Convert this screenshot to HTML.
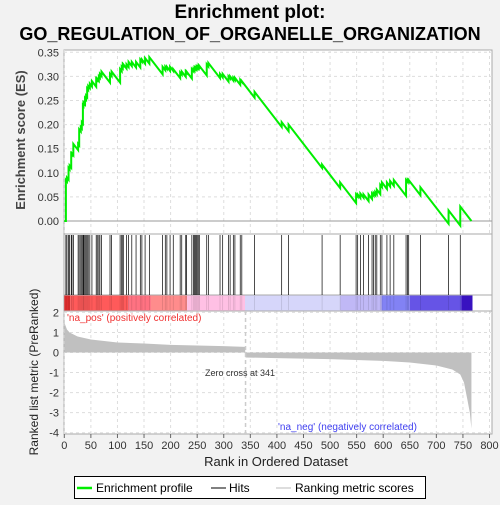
<!DOCTYPE html>
<html><head><meta charset="utf-8"><style>
body{margin:0;background:#f2f2f2;}
svg{font-family:"Liberation Sans","DejaVu Sans",sans-serif;}
</style></head><body>
<svg id="c" width="500" height="500" xmlns="http://www.w3.org/2000/svg">
<rect width="500" height="500" fill="#f2f2f2"/>
<text x="250" y="18" text-anchor="middle" font-size="19" font-weight="bold">Enrichment plot:</text>
<text x="250" y="40" text-anchor="middle" font-size="18" font-weight="bold">GO_REGULATION_OF_ORGANELLE_ORGANIZATION</text>
<rect x="64" y="50" width="428" height="384" fill="#fff" stroke="#aaa"/>
<g id="g"></g>
<text transform="translate(25,140) rotate(-90)" text-anchor="middle" font-size="13" font-weight="bold" fill="#444">Enrichment score (ES)</text>
<text transform="translate(38,372) rotate(-90)" text-anchor="middle" font-size="12" fill="#222">Ranked list metric (PreRanked)</text>
<text x="276" y="466" text-anchor="middle" font-size="13" fill="#222">Rank in Ordered Dataset</text>
<text x="67" y="321" font-size="10" fill="#f03030">'na_pos' (positively correlated)</text>
<text x="278" y="430" font-size="10" fill="#4040f0">'na_neg' (negatively correlated)</text>
<text x="205" y="376" font-size="9" fill="#333">Zero cross at 341</text>
<g>
<rect x="74.5" y="476.5" width="351" height="22" fill="#fff" stroke="#000"/>
<line x1="77" y1="488" x2="92" y2="488" stroke="#00ee00" stroke-width="2.5"/>
<text x="96" y="492" font-size="12">Enrichment profile</text>
<line x1="211" y1="488" x2="226" y2="488" stroke="#000"/>
<text x="229" y="492" font-size="12">Hits</text>
<line x1="276" y1="488" x2="291" y2="488" stroke="#bbb"/>
<text x="295" y="492" font-size="12">Ranking metric scores</text>
</g>
</svg>
<script>
const hitRanks=[3,5,8,10,13,14.5,17,26,28,31,33,35,36,37,39,41,43,45,48,52,60,62,65,67,70,86,89,105,108,110,111,117,121,127,135,143,146,152,160,185,190,193,199,205,218,221,228.5,230,240,243,245,247,249,251,253,254,268,271,293,298,309,312,318,321,331,334,358,409,422,485,519,549,552,557,563,572.5,579,582,585,588,594.5,597.6,607,613,620,643,646,648,670,723,745];
const esPeaks=[0.085,0.09,0.11,0.115,0.14,0.14,0.16,0.16,0.19,0.195,0.205,0.24,0.245,0.245,0.255,0.26,0.275,0.28,0.285,0.29,0.295,0.295,0.3,0.305,0.31,0.305,0.31,0.315,0.32,0.325,0.325,0.325,0.33,0.33,0.33,0.335,0.335,0.338,0.34,0.32,0.32,0.32,0.32,0.315,0.308,0.31,0.31,0.31,0.315,0.315,0.318,0.318,0.32,0.32,0.322,0.322,0.325,0.328,0.305,0.305,0.3,0.3,0.297,0.297,0.293,0.29,0.268,0.205,0.2,0.117,0.08,0.055,0.055,0.057,0.055,0.055,0.057,0.058,0.06,0.065,0.075,0.08,0.08,0.083,0.085,0.085,0.085,0.085,0.07,0.022,0.03];
const totalRanks=766;
const metricRanks=[0,5,10,25,50,100,150,200,250,300,340,341,400,500,600,650,700,730,745,752,758,763,766];
const metricValues=[1.5,1.15,1.0,0.8,0.65,0.5,0.45,0.38,0.35,0.32,0.28,-0.25,-0.28,-0.33,-0.42,-0.5,-0.65,-0.85,-1.1,-1.5,-2.3,-3.0,-3.8];
const bandStarts=[0,11,120,163,231,340,519,597,650,747];
const bandEnds=[11,120,163,231,340,519,597,650,747,768];
const bandColors=["#e83030","#ff5a5a","#ff7282","#ff8c8c","#ffc0e4","#d6d6fa","#c0b8f6","#8282f4","#6654e6","#3812c0"];
const xTicks=[0,50,100,150,200,250,300,350,400,450,500,550,600,650,700,750,800];
const esTicks=[0,0.05,0.10,0.15,0.20,0.25,0.30,0.35];
const metricTicks=[2,1,0,-1,-2,-3,-4];

const X=r=>64.3+r*0.5315;
const YE=v=>221-v*482;
const YM=v=>352.5-v*20.05;
const g=document.getElementById('g');
const NS='http://www.w3.org/2000/svg';
function mk(t,a){const e=document.createElementNS(NS,t);for(const k in a)e.setAttribute(k,a[k]);g.appendChild(e);return e;}

// grid + ticks
xTicks.forEach(t=>{
  const x=X(t);
  const l1=mk('line',{x1:x,y1:50,x2:x,y2:234,stroke:'#ddd','stroke-dasharray':'3,3'});
  
  
  const l2=mk('line',{x1:x,y1:311,x2:x,y2:434,stroke:'#ddd','stroke-dasharray':'3,3'});
  
  
  const tk=mk('line',{x1:x,y1:434,x2:x,y2:438,stroke:'#666'});
  
  
  const tx=mk('text',{x:x,y:449,'text-anchor':'middle','font-size':11,fill:'#333'});
  tx.textContent=t;
  
  
});
esTicks.forEach(t=>{
  const y=YE(t);
  const l=mk('line',{x1:64,y1:y,x2:492,y2:y,stroke:t===0?'#999':'#ddd','stroke-dasharray':t===0?'':'3,3'});
  
  
  const tx=mk('text',{x:59,y:y+4,'text-anchor':'end','font-size':11,fill:'#333'});
  tx.textContent=t.toFixed(2);
  
  
});
metricTicks.forEach(t=>{
  const y=YM(t);
  const l=mk('line',{x1:64,y1:y,x2:492,y2:y,stroke:'#ddd','stroke-dasharray':'3,3'});
  
  
  const tx=mk('text',{x:59,y:y+4,'text-anchor':'end','font-size':11,fill:'#333'});
  tx.textContent=t;
  
  
});
// panel separators
[234,295,311].forEach(y=>{const l=mk('line',{x1:64,y1:y,x2:492,y2:y,stroke:'#aaa'});

});
// color band
bandStarts.forEach((s,i)=>{
  const r=mk('rect',{x:X(s),y:295.5,width:X(bandEnds[i])-X(s),height:15,fill:bandColors[i]});
  
  
});
// hits
hitRanks.forEach(h=>{
  const l=mk('line',{x1:X(h),y1:235,x2:X(h),y2:295,stroke:'#000','stroke-width':0.7});
  
  
  const l2=mk('line',{x1:X(h),y1:296,x2:X(h),y2:310,stroke:'rgba(0,0,0,0.15)','stroke-width':0.7});
  
  
});
// metric area
let p='M'+X(metricRanks[0])+','+YM(0);
metricRanks.forEach((r,i)=>{p+=' L'+X(r)+','+YM(metricValues[i]);});
p+=' L'+X(metricRanks[metricRanks.length-1])+','+YM(0)+' Z';
const area=mk('path',{d:p,fill:'#c0c0c0'});


const zc=mk('line',{x1:X(341),y1:311,x2:X(341),y2:434,stroke:'#ccc','stroke-dasharray':'4,3','stroke-width':1.5});


// ES curve
const d=esPeaks[esPeaks.length-1]/(totalRanks-hitRanks[hitRanks.length-1]);
let pts=[[X(0),YE(0)]];let prevR=0,prevV=0;
hitRanks.forEach((h,i)=>{
  const before=prevV-d*(h-prevR);
  pts.push([X(h),YE(i===0?0:before)]);
  pts.push([X(h),YE(esPeaks[i])]);
  prevR=h;prevV=esPeaks[i];
});
pts.push([X(totalRanks),YE(prevV-d*(totalRanks-prevR))]);
const es=mk('polyline',{points:pts.map(q=>q.join(',')).join(' '),fill:'none',stroke:'#00ee00','stroke-width':2});


</script>
</body></html>
